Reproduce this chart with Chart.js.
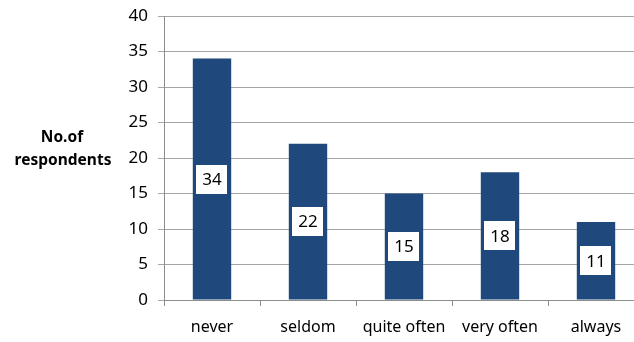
<!DOCTYPE html>
<html><head><meta charset="utf-8">
<script src="https://cdn.jsdelivr.net/npm/chart.js@4/dist/chart.umd.min.js"></script>
<style>
html,body{margin:0;padding:0;background:#fff;overflow:hidden;width:634px;height:342px;}
#wrap{width:644px;height:342px;position:relative;}
</style></head><body>
<div id="wrap"><canvas id="c" width="644" height="342"></canvas></div>
<script>
const categories = ["never", "seldom", "quite often", "very often", "always"];
const respondents = [34, 22, 15, 18, 11];
const yTitleLines = ["No.of", "respondents"];
const FONT = "'Noto Sans', 'Liberation Sans', sans-serif";

const labelPlugin = {
  id: 'boxLabels',
  afterDatasetsDraw(chart) {
    const ctx = chart.ctx;
    const meta = chart.getDatasetMeta(0);
    ctx.save();
    ctx.font = '17px ' + FONT;
    ctx.textAlign = 'center';
    ctx.textBaseline = 'middle';
    meta.data.forEach((bar, i) => {
      const v = chart.data.datasets[0].data[i];
      const txt = String(v);
      const cx = bar.x;
      const cy = (bar.y + bar.base) / 2;
      const w = ctx.measureText(txt).width + 12;
      const h = 29;
      ctx.fillStyle = '#ffffff';
      ctx.fillRect(Math.round(cx - w / 2), Math.round(cy - h / 2), Math.round(w), h);
      ctx.fillStyle = '#000000';
      ctx.fillText(txt, cx, cy + 1);
    });
    ctx.restore();
  }
};

const titlePlugin = {
  id: 'yTitle',
  afterDraw(chart) {
    const ctx = chart.ctx;
    ctx.save();
    ctx.font = 'bold 15.5px ' + FONT;
    ctx.fillStyle = '#000';
    ctx.textAlign = 'center';
    ctx.textBaseline = 'middle';
    ctx.fillText(yTitleLines[0], 62, 138);
    ctx.fillText(yTitleLines[1], 63, 161);
    ctx.restore();
  }
};

new Chart(document.getElementById('c'), {
  type: 'bar',
  data: {
    labels: categories,
    datasets: [{
      data: respondents,
      backgroundColor: '#1F497D',
      borderWidth: 0,
      barPercentage: 0.4,
      categoryPercentage: 1.0
    }]
  },
  options: {
    responsive: false,
    animation: false,
    devicePixelRatio: 1,
    layout: { padding: { top: 0, right: 0, left: 0, bottom: 0 } },
    plugins: { legend: { display: false }, tooltip: { enabled: false } },
    scales: {
      x: {
        grid: { display: true, drawOnChartArea: false, drawTicks: true, tickLength: 6, color: '#8c8c8c', offset: true },
        border: { color: '#8c8c8c', width: 1 },
        ticks: { color: '#000', font: { family: FONT, size: 16 }, padding: 12, maxRotation: 0 },
        afterFit(scale) { scale.height = 42; }
      },
      y: {
        min: 0, max: 40,
        ticks: { stepSize: 5, color: '#000', font: { family: FONT, size: 17 }, padding: 10 },
        grid: { color: '#a6a6a6', tickLength: 6, drawTicks: true },
        border: { color: '#8c8c8c', width: 1 },
        afterFit(scale) { scale.width = 164; scale.paddingTop = 16; }
      }
    }
  },
  plugins: [labelPlugin, titlePlugin]
});
</script>
</body></html>
